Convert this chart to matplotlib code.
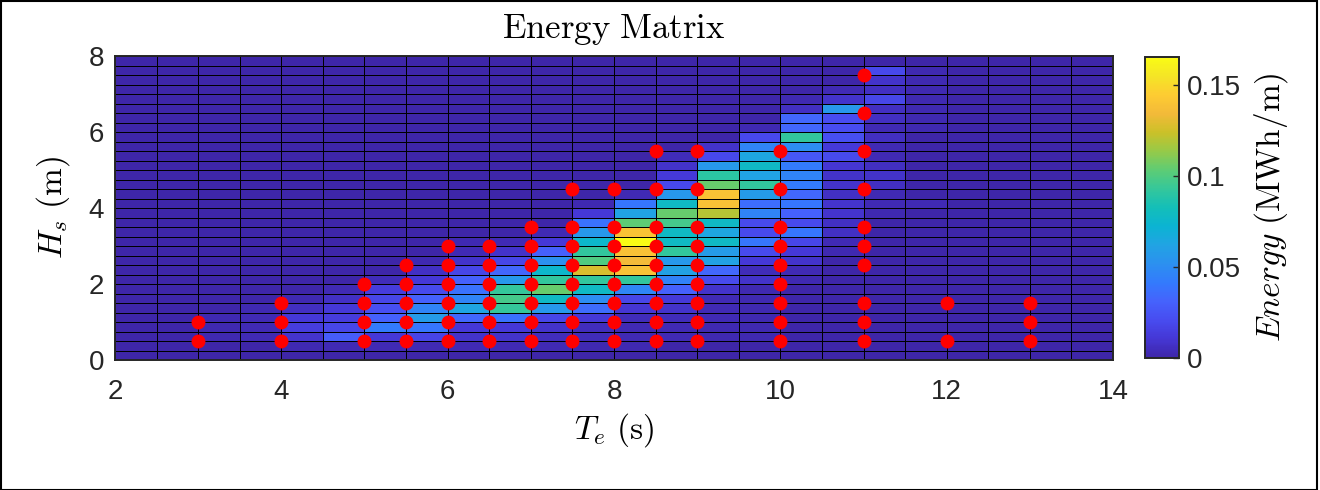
import numpy as np
import matplotlib
matplotlib.use("Agg")
import matplotlib.pyplot as plt
from matplotlib.colors import LinearSegmentedColormap
from matplotlib.patches import Rectangle

plt.rcParams["font.family"] = ["Liberation Sans", "DejaVu Sans"]
plt.rcParams["mathtext.fontset"] = "cm"

# grid of the energy matrix (cell edges)
te_edges = np.arange(2.0, 14.01, 0.5)     # energy period Te (s)
hs_edges = np.arange(0.0, 8.01, 0.25)     # significant wave height Hs (m)

# energy per cell (MWh/m), one list per Te column, rows from Hs = 0 upwards
energy_cols = {
    3.0:  [0, 0, 0.002, 0.002, 0.002],
    3.5:  [0, 0, 0.003, 0.003, 0.003, 0.002],
    4.0:  [0, 0.002, 0.009, 0.014, 0.011, 0.006, 0.002],
    4.5:  [0, 0.003, 0.028, 0.018, 0.013, 0.011, 0.007, 0.003],
    5.0:  [0, 0.003, 0.011, 0.042, 0.031, 0.022, 0.018, 0.013, 0.004],
    5.5:  [0, 0.003, 0.017, 0.040, 0.058, 0.046, 0.031, 0.020, 0.011, 0.007, 0.002],
    6.0:  [0, 0.003, 0.008, 0.011, 0.033, 0.063, 0.046, 0.038, 0.031, 0.018, 0.008, 0.003, 0.002],
    6.5:  [0, 0.003, 0.008, 0.011, 0.038, 0.093, 0.097, 0.093, 0.056, 0.033, 0.018, 0.008, 0.003],
    7.0:  [0, 0.003, 0.005, 0.008, 0.018, 0.056, 0.078, 0.105, 0.092, 0.075, 0.052, 0.031, 0.011, 0.003],
    7.5:  [0, 0.002, 0.004, 0.005, 0.011, 0.035, 0.050, 0.078, 0.092, 0.128, 0.100, 0.092, 0.075, 0.056, 0.038, 0.011, 0.002],
    8.0:  [0, 0.002, 0.003, 0.003, 0.004, 0.010, 0.018, 0.047, 0.092, 0.139, 0.135, 0.139, 0.1655, 0.140, 0.103, 0.062,
           0.040, 0.003],
    8.5:  [0, 0, 0.003, 0.003, 0.004, 0.008, 0.012, 0.031, 0.045, 0.061, 0.056, 0.092, 0.078, 0.078, 0.097, 0.105,
           0.078, 0.056, 0.019, 0.012, 0.008, 0.004],
    9.0:  [0, 0, 0.002, 0.002, 0.003, 0.003, 0.003, 0.008, 0.020, 0.033, 0.061, 0.058, 0.078, 0.064, 0.078, 0.120,
           0.139, 0.140, 0.105, 0.090, 0.056, 0.019, 0.008],
    9.5:  [0, 0, 0.002, 0.002, 0.002, 0.002, 0.002, 0.002, 0.008, 0.004, 0.011, 0.020, 0.040, 0.020, 0.020, 0.046,
           0.036, 0.058, 0.092, 0.062, 0.078, 0.064, 0.046, 0.019, 0.002],
    10.0: [0, 0, 0, 0, 0, 0, 0, 0, 0.002, 0.003, 0.008, 0.011, 0.018, 0.040, 0.020, 0.031,
           0.040, 0.033, 0.042, 0.046, 0.042, 0.026, 0.050, 0.092, 0.033, 0.033, 0.006, 0.002],
    10.5: [0, 0, 0, 0, 0, 0, 0, 0, 0, 0, 0, 0.002, 0.003, 0.007, 0.007, 0.009,
           0.009, 0.007, 0.008, 0.008, 0.010, 0.020, 0.012, 0.022, 0.021, 0.021, 0.055, 0.008, 0.003],
    11.0: [0, 0, 0, 0, 0, 0, 0, 0, 0, 0, 0, 0, 0, 0, 0, 0.002,
           0.003, 0.003, 0.006, 0.008, 0.006, 0.003, 0.003, 0.006, 0.003, 0.006, 0.006, 0.018, 0.006, 0.008, 0.019],
    11.5: [0, 0, 0, 0, 0, 0, 0, 0, 0, 0, 0, 0, 0, 0, 0, 0,
           0.003, 0, 0, 0, 0, 0, 0, 0, 0.002, 0.002, 0.002, 0.002, 0.002, 0.002, 0.002],
}

# sea states used for the simulations (red markers)
sea_states = {
    3.0:  [0.5, 1.0],
    4.0:  [0.5, 1.0, 1.5],
    5.0:  [0.5, 1.0, 1.5, 2.0],
    5.5:  [0.5, 1.0, 1.5, 2.0, 2.5],
    6.0:  [0.5, 1.0, 1.5, 2.0, 2.5, 3.0],
    6.5:  [0.5, 1.0, 1.5, 2.0, 2.5, 3.0],
    7.0:  [0.5, 1.0, 1.5, 2.0, 2.5, 3.0, 3.5],
    7.5:  [0.5, 1.0, 1.5, 2.0, 2.5, 3.0, 3.5, 4.5],
    8.0:  [0.5, 1.0, 1.5, 2.0, 2.5, 3.0, 3.5, 4.5],
    8.5:  [0.5, 1.0, 1.5, 2.0, 2.5, 3.0, 3.5, 4.5, 5.5],
    9.0:  [0.5, 1.0, 1.5, 2.0, 2.5, 3.0, 3.5, 4.5, 5.5],
    10.0: [0.5, 1.0, 1.5, 2.0, 2.5, 3.0, 3.5, 4.5, 5.5],
    11.0: [0.5, 1.0, 1.5, 2.5, 3.0, 3.5, 4.5, 5.5, 6.5, 7.5],
    12.0: [0.5, 1.5],
    13.0: [0.5, 1.0, 1.5],
}

cbar_ticks = [0, 0.05, 0.1, 0.15]
cbar_ticklabels = ["0", "0.05", "0.1", "0.15"]

# parula (MATLAB) approximation
parula_pts = [
    (0.2422, 0.1504, 0.6603), (0.2704, 0.2138, 0.8346), (0.2813, 0.2985, 0.9397),
    (0.2710, 0.3860, 0.9898), (0.2006, 0.4803, 0.9906), (0.1716, 0.5655, 0.9393),
    (0.1288, 0.6408, 0.8910), (0.0433, 0.7039, 0.8242), (0.0770, 0.7468, 0.7224),
    (0.2061, 0.7808, 0.6065), (0.3671, 0.8021, 0.4563), (0.5886, 0.7913, 0.2833),
    (0.7945, 0.7554, 0.1570), (0.9523, 0.7284, 0.2237), (0.9938, 0.7974, 0.1974),
    (0.9601, 0.8963, 0.1507), (0.9769, 0.9839, 0.0805),
]
parula = LinearSegmentedColormap.from_list("parula", parula_pts, N=256)

# build the matrix
n_hs, n_te = len(hs_edges) - 1, len(te_edges) - 1
E = np.zeros((n_hs, n_te))
for te, col in energy_cols.items():
    j = int(round((te - te_edges[0]) / 0.5))
    E[:len(col), j] = col

pts_te = [te for te, hs in sea_states.items() for _ in hs]
pts_hs = [h for hs in sea_states.values() for h in hs]

fig = plt.figure(figsize=(13.2, 4.9), dpi=100)
ax = fig.add_axes([115 / 1320, 130 / 490, 998 / 1320, 304 / 490])
mesh = ax.pcolormesh(te_edges, hs_edges, E, cmap=parula, vmin=0, vmax=E.max(),
                     edgecolors="k", linewidth=0.6)
ax.plot(pts_te, pts_hs, "o", color="red", ms=10, mec="none", zorder=5)

ax.set_xlim(2, 14)
ax.set_ylim(0, 8)
ax.set_xticks([2, 4, 6, 8, 10, 12, 14])
ax.set_yticks([0, 2, 4, 6, 8])
ax.tick_params(length=0, labelsize=20, colors="#262626", pad=14)
ax.tick_params(axis="y", pad=8)
for s in ax.spines.values():
    s.set_linewidth(1.4)
    s.set_color("#262626")

ax.set_title(r"$\mathrm{Energy\ Matrix}$", fontsize=25, pad=13)
ax.set_xlabel(r"$T_e\ \mathrm{(s)}$", fontsize=24, labelpad=4)
ax.set_ylabel(r"$H_s\ \mathrm{(m)}$", fontsize=24, labelpad=12)

cax = fig.add_axes([1145 / 1320, 132 / 490, 34 / 1320, 301 / 490])
cb = fig.colorbar(mesh, cax=cax, ticks=cbar_ticks)
cb.ax.set_yticklabels(cbar_ticklabels)
cb.ax.tick_params(direction="in", length=4, width=1, labelsize=20, colors="#262626", pad=6)
cb.outline.set_linewidth(1.4)
cb.outline.set_edgecolor("#262626")
cb.set_label(r"$Energy\ \mathrm{(MWh/m)}$", fontsize=24, labelpad=8)

fig.patches.append(Rectangle((0.001, 0.001), 0.997, 0.997, transform=fig.transFigure,
                             fill=False, edgecolor="black", linewidth=1.5))
fig.savefig("out.png", dpi=100)
